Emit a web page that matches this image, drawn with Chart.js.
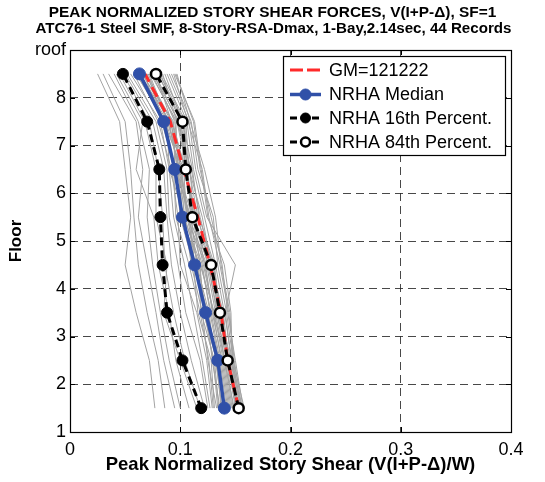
<!DOCTYPE html>
<html>
<head>
<meta charset="utf-8">
<script src="https://cdn.jsdelivr.net/npm/chart.js@4/dist/chart.umd.min.js"></script>
<style>
  html, body { margin: 0; padding: 0; background: #fff; }
  #c { display: block; }
</style>
</head>
<body>
<canvas id="c" width="545" height="482"></canvas>
<script>
// Story mid-heights (floor 1.5 .. 8.5)
const floors = [1.5, 2.5, 3.5, 4.5, 5.5, 6.5, 7.5, 8.5];

// Tick labels
const xTicks = [0, 0.1, 0.2, 0.3, 0.4];
const yTickLabels = ['1', '2', '3', '4', '5', '6', '7', '8', 'roof'];

// Summary curves, peak normalized story shear per story
const gm = [0.153, 0.143, 0.137, 0.127, 0.116, 0.103, 0.091, 0.068];
const median = [0.140, 0.134, 0.123, 0.113, 0.102, 0.095, 0.085, 0.063];
const p16 = [0.119, 0.102, 0.088, 0.084, 0.082, 0.081, 0.070, 0.048];
const p84 = [0.153, 0.143, 0.136, 0.128, 0.111, 0.105, 0.102, 0.078];

// Individual ground-motion records (44)
const records = [
  [0.077, 0.072, 0.060, 0.050, 0.055, 0.050, 0.045, 0.025],
  [0.086, 0.080, 0.070, 0.062, 0.058, 0.055, 0.050, 0.030],
  [0.095, 0.085, 0.078, 0.070, 0.062, 0.066, 0.060, 0.035],
  [0.100, 0.090, 0.082, 0.075, 0.070, 0.072, 0.062, 0.040],
  [0.108, 0.096, 0.090, 0.080, 0.076, 0.060, 0.066, 0.042],
  [0.115, 0.100, 0.085, 0.088, 0.078, 0.078, 0.068, 0.045],
  [0.118, 0.104, 0.094, 0.086, 0.084, 0.080, 0.072, 0.048],
  [0.122, 0.110, 0.100, 0.092, 0.088, 0.085, 0.075, 0.050],
  [0.125, 0.118, 0.105, 0.098, 0.090, 0.088, 0.078, 0.052],
  [0.127, 0.120, 0.112, 0.104, 0.094, 0.090, 0.082, 0.055],
  [0.129, 0.124, 0.115, 0.100, 0.098, 0.092, 0.080, 0.058],
  [0.130, 0.126, 0.118, 0.108, 0.096, 0.094, 0.086, 0.060],
  [0.131, 0.128, 0.116, 0.112, 0.100, 0.096, 0.084, 0.062],
  [0.133, 0.125, 0.120, 0.110, 0.104, 0.090, 0.088, 0.064],
  [0.134, 0.130, 0.122, 0.114, 0.102, 0.098, 0.090, 0.066],
  [0.135, 0.131, 0.119, 0.116, 0.106, 0.100, 0.087, 0.060],
  [0.136, 0.129, 0.124, 0.112, 0.108, 0.097, 0.092, 0.068],
  [0.137, 0.133, 0.121, 0.118, 0.100, 0.102, 0.085, 0.070],
  [0.138, 0.132, 0.126, 0.115, 0.110, 0.095, 0.094, 0.065],
  [0.139, 0.134, 0.123, 0.117, 0.104, 0.099, 0.089, 0.072],
  [0.140, 0.135, 0.127, 0.120, 0.107, 0.101, 0.091, 0.063],
  [0.141, 0.133, 0.125, 0.113, 0.109, 0.096, 0.083, 0.067],
  [0.142, 0.136, 0.128, 0.119, 0.103, 0.104, 0.093, 0.069],
  [0.143, 0.137, 0.130, 0.121, 0.111, 0.098, 0.096, 0.074],
  [0.144, 0.138, 0.129, 0.123, 0.106, 0.103, 0.088, 0.071],
  [0.145, 0.139, 0.131, 0.118, 0.112, 0.106, 0.097, 0.073],
  [0.146, 0.140, 0.132, 0.124, 0.108, 0.100, 0.095, 0.076],
  [0.147, 0.141, 0.130, 0.122, 0.114, 0.105, 0.092, 0.078],
  [0.148, 0.142, 0.133, 0.126, 0.110, 0.107, 0.099, 0.075],
  [0.149, 0.140, 0.134, 0.125, 0.113, 0.103, 0.101, 0.080],
  [0.150, 0.143, 0.135, 0.127, 0.116, 0.108, 0.098, 0.077],
  [0.151, 0.144, 0.136, 0.128, 0.112, 0.109, 0.100, 0.082],
  [0.151, 0.142, 0.137, 0.130, 0.115, 0.104, 0.103, 0.079],
  [0.152, 0.145, 0.134, 0.129, 0.118, 0.110, 0.097, 0.084],
  [0.152, 0.143, 0.138, 0.126, 0.111, 0.106, 0.104, 0.081],
  [0.153, 0.146, 0.136, 0.131, 0.117, 0.111, 0.102, 0.086],
  [0.153, 0.144, 0.139, 0.128, 0.120, 0.108, 0.105, 0.083],
  [0.154, 0.147, 0.140, 0.132, 0.122, 0.112, 0.106, 0.088],
  [0.155, 0.146, 0.141, 0.150, 0.124, 0.114, 0.108, 0.090],
  [0.155, 0.148, 0.142, 0.134, 0.130, 0.116, 0.110, 0.092],
  [0.156, 0.149, 0.144, 0.136, 0.126, 0.120, 0.107, 0.094],
  [0.157, 0.150, 0.143, 0.138, 0.128, 0.118, 0.112, 0.096],
  [0.158, 0.148, 0.145, 0.137, 0.132, 0.122, 0.109, 0.097],
  [0.156, 0.147, 0.146, 0.140, 0.125, 0.119, 0.113, 0.095]
];

const FONT = '"Liberation Sans", Arial, Helvetica, sans-serif';
const toPts = arr => arr.map((v, i) => ({ x: v, y: floors[i] }));

const datasets = records.map((r, i) => ({
  label: 'rec' + (i + 1),
  data: toPts(r),
  borderColor: '#a3a3a3',
  borderWidth: 1,
  pointRadius: 0,
  showLine: true,
  order: 10
}));

datasets.push({
  label: 'GM=121222',
  data: toPts(gm),
  borderColor: '#ff2a2a',
  borderWidth: 3,
  borderDash: [11, 6],
  pointRadius: 0,
  showLine: true,
  order: 4
});
datasets.push({
  label: 'NRHA Median',
  data: toPts(median),
  borderColor: '#3050a8',
  borderWidth: 3.5,
  pointRadius: 6,
  pointBackgroundColor: '#3050a8',
  pointBorderColor: '#3050a8',
  pointBorderWidth: 1,
  showLine: true,
  order: 3
});
datasets.push({
  label: 'NRHA 16th Percent.',
  data: toPts(p16),
  borderColor: '#000',
  borderWidth: 3,
  borderDash: [8, 5],
  pointRadius: 5.5,
  pointBackgroundColor: '#000',
  pointBorderColor: '#000',
  pointBorderWidth: 1,
  showLine: true,
  order: 2
});
datasets.push({
  label: 'NRHA 84th Percent.',
  data: toPts(p84),
  borderColor: '#000',
  borderWidth: 3,
  borderDash: [8, 5],
  pointRadius: 5,
  pointBackgroundColor: '#fff',
  pointBorderColor: '#000',
  pointBorderWidth: 2.5,
  showLine: true,
  order: 1
});

const GRID_DASH = [8, 5];
const GRID_COLOR = 'rgba(40,40,40,0.85)';

// Draws text slightly widened horizontally, centred on (cx, cy)
function wideText(ctx, text, cx, cy, sx) {
  ctx.save();
  ctx.translate(cx, cy);
  ctx.scale(sx, 1);
  ctx.fillText(text, 0, 0);
  ctx.restore();
}

// Title lines, axes box with inward ticks, and the legend
const decor = {
  id: 'decor',
  afterDraw(chart) {
    const ctx = chart.ctx;
    const a = chart.chartArea;
    const xs = chart.scales.x, ys = chart.scales.y;

    // titles
    ctx.save();
    ctx.fillStyle = '#000';
    ctx.textAlign = 'center';
    ctx.textBaseline = 'middle';
    ctx.font = 'bold 14px ' + FONT;
    wideText(ctx, 'PEAK NORMALIZED STORY SHEAR FORCES, V(I+P-\u0394), SF=1', 272.5, 13.5, 1.1);
    wideText(ctx, 'ATC76-1 Steel SMF, 8-Story-RSA-Dmax, 1-Bay,2.14sec, 44 Records', 273.5, 29.5, 1.08);
    ctx.restore();

    // axes box
    ctx.save();
    ctx.strokeStyle = '#000';
    ctx.lineWidth = 1.2;
    ctx.strokeRect(Math.round(a.left) + 0.5, Math.round(a.top) + 0.5,
      Math.round(a.right - a.left), Math.round(a.bottom - a.top));
    // inward ticks
    const tl = 5;
    ctx.lineWidth = 1;
    ctx.beginPath();
    xTicks.forEach(v => {
      const px = Math.round(xs.getPixelForValue(v)) + 0.5;
      ctx.moveTo(px, a.bottom); ctx.lineTo(px, a.bottom - tl);
      ctx.moveTo(px, a.top); ctx.lineTo(px, a.top + tl);
    });
    for (let v = 1; v <= 9; v++) {
      const py = Math.round(ys.getPixelForValue(v)) + 0.5;
      ctx.moveTo(a.left, py); ctx.lineTo(a.left + tl, py);
      ctx.moveTo(a.right, py); ctx.lineTo(a.right - tl, py);
    }
    ctx.stroke();
    ctx.restore();

    // legend
    const L = { x: 283.5, y: 56.5, w: 222, h: 99 };
    ctx.save();
    ctx.fillStyle = '#fff';
    ctx.fillRect(L.x, L.y, L.w, L.h);
    ctx.strokeStyle = '#000';
    ctx.lineWidth = 1.2;
    ctx.strokeRect(L.x, L.y, L.w, L.h);

    const rows = [70, 94.5, 118, 142];
    const keys = datasets.slice(records.length);
    ctx.font = '18px ' + FONT;
    ctx.textAlign = 'left';
    ctx.textBaseline = 'middle';
    keys.forEach((d, i) => {
      const y = rows[i];
      ctx.save();
      ctx.strokeStyle = d.borderColor;
      ctx.lineWidth = d.borderWidth;
      if (i === 0) ctx.setLineDash([13, 4]);
      else if (i >= 2) ctx.setLineDash([7, 4]);
      else ctx.setLineDash([]);
      ctx.beginPath();
      ctx.moveTo(290, y); ctx.lineTo(321, y);
      ctx.stroke();
      ctx.setLineDash([]);
      if (d.pointRadius) {
        ctx.beginPath();
        ctx.arc(305.5, y, d.pointRadius - 0.5, 0, Math.PI * 2);
        ctx.fillStyle = d.pointBackgroundColor;
        ctx.fill();
        ctx.lineWidth = d.pointBorderWidth;
        ctx.strokeStyle = d.pointBorderColor;
        ctx.stroke();
      }
      ctx.restore();
      ctx.fillStyle = '#000';
      ctx.fillText(d.label, 329, y + 1);
    });
    ctx.restore();
  }
};

new Chart(document.getElementById('c'), {
  type: 'scatter',
  data: { datasets },
  options: {
    responsive: false,
    animation: false,
    devicePixelRatio: 1,
    layout: { padding: { top: 50, right: 34, left: 0, bottom: 0 } },
    plugins: {
      legend: { display: false },
      tooltip: { enabled: false },
      title: { display: false }
    },
    scales: {
      x: {
        type: 'linear',
        min: 0,
        max: 0.4,
        afterFit: s => { s.height = 50; },
        afterBuildTicks: s => { s.ticks = xTicks.map(v => ({ value: v })); },
        ticks: {
          color: '#000',
          padding: 7,
          font: { family: FONT, size: 18 },
          callback: v => String(Math.round(v * 10) / 10)
        },
        grid: {
          drawTicks: false,
          lineWidth: 1,
          color: c => (c.tick && (c.tick.value === 0 || c.tick.value === 0.4)) ? 'rgba(0,0,0,0)' : GRID_COLOR
        },
        border: { display: false, dash: GRID_DASH },
        title: {
          display: true,
          text: 'Peak Normalized Story Shear (V(I+P-\u0394)/W)',
          color: '#000',
          font: { family: FONT, size: 18.5, weight: 'bold' },
          padding: { top: 6, bottom: 6 }
        }
      },
      y: {
        type: 'linear',
        min: 1,
        max: 9,
        afterFit: s => { s.width = 70; },
        afterBuildTicks: s => { s.ticks = yTickLabels.map((t, i) => ({ value: i + 1 })); },
        ticks: {
          color: '#000',
          padding: 4,
          font: { family: FONT, size: 18 },
          callback: (v, i) => yTickLabels[Math.round(v) - 1]
        },
        grid: {
          drawTicks: false,
          lineWidth: 1,
          color: c => (c.tick && (c.tick.value === 1 || c.tick.value === 9)) ? 'rgba(0,0,0,0)' : GRID_COLOR
        },
        border: { display: false, dash: GRID_DASH },
        title: {
          display: true,
          text: 'Floor',
          color: '#000',
          font: { family: FONT, size: 17, weight: 'bold' },
          padding: { top: 6, bottom: 6 }
        }
      }
    }
  },
  plugins: [decor]
});
</script>
</body>
</html>
